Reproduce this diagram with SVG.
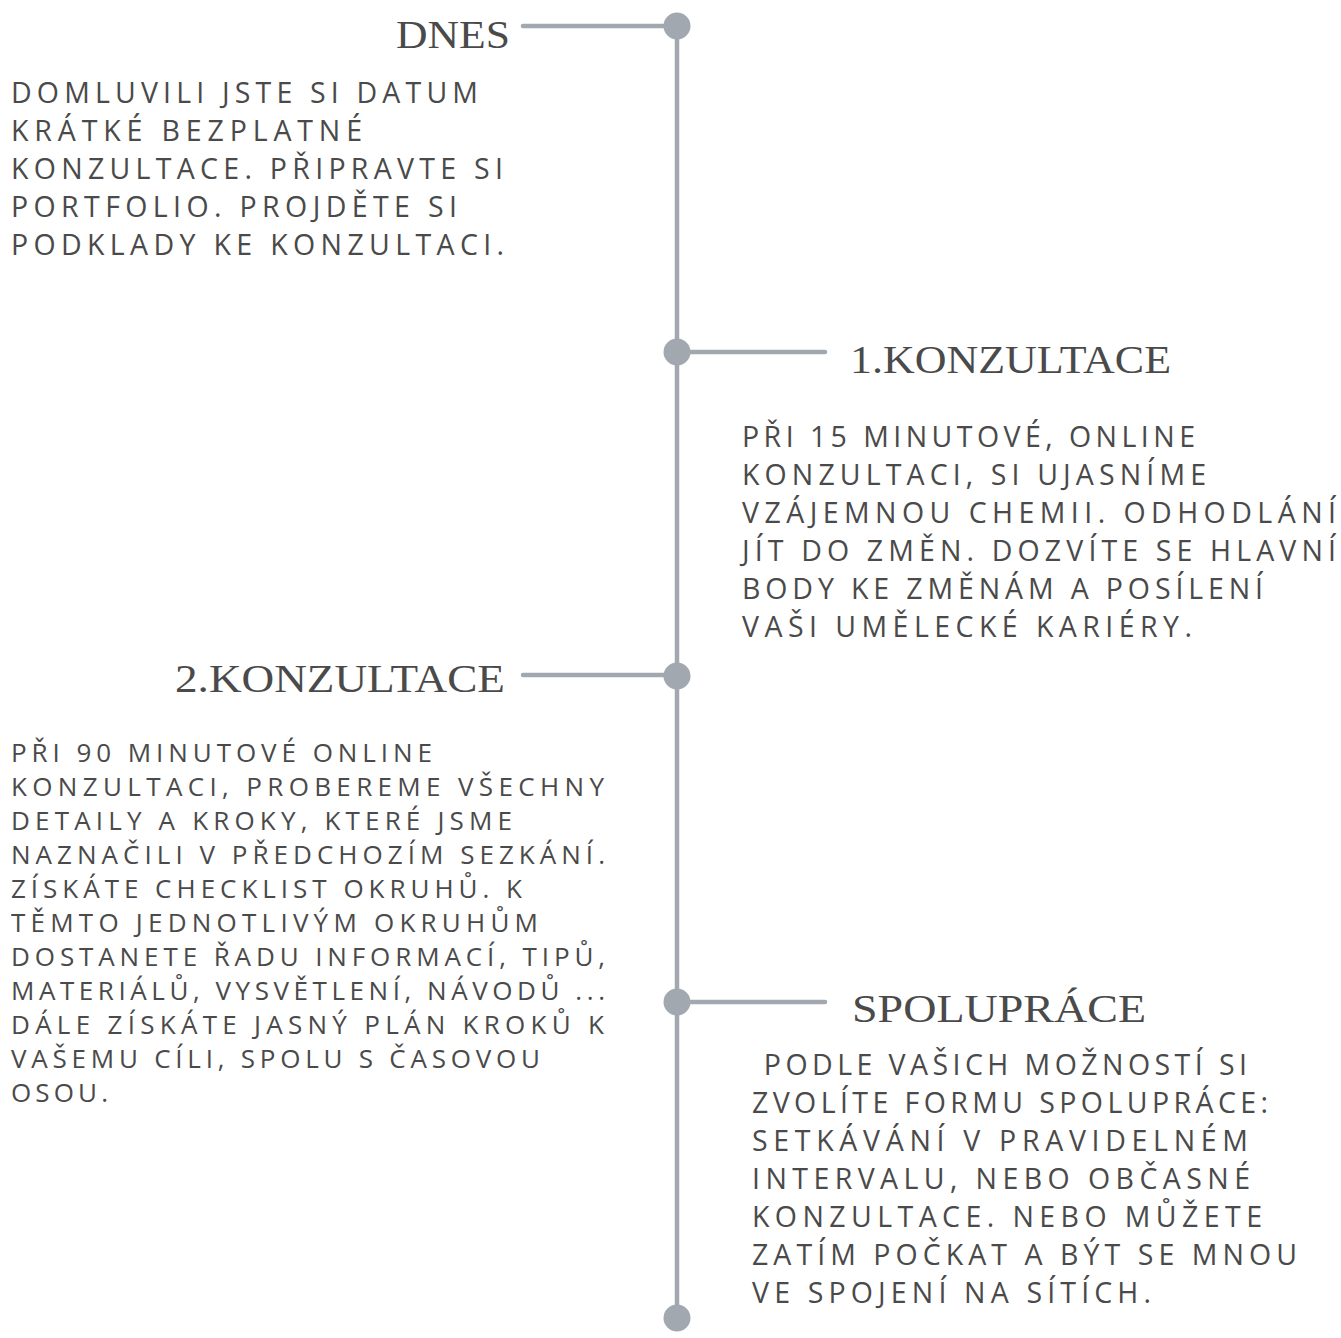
<svg xmlns="http://www.w3.org/2000/svg" width="1341" height="1338" viewBox="0 0 1341 1338">
<style>
.bg{fill:#ffffff}
.ln{stroke:#a2a8b0;stroke-width:4.5;stroke-linecap:round;fill:none}
.dot{fill:#a2a8b0}
.ttl{font-family:"Liberation Serif","DejaVu Serif",serif;font-size:41px;fill:#4a4a4a}
.body{font-family:"Open Sans",Lato,"DejaVu Sans",sans-serif;font-weight:400;font-size:28.5px;fill:#4a4a4a}
.small{font-size:26px}
</style>
<rect class="bg" x="0" y="0" width="1341" height="1338"/>
<g id="connectors">
<line class="ln" x1="677" y1="26" x2="677" y2="1318"/>
<line class="ln" x1="523" y1="26" x2="677" y2="26"/>
<line class="ln" x1="677" y1="352" x2="825" y2="352"/>
<line class="ln" x1="523" y1="675" x2="677" y2="675"/>
<line class="ln" x1="677" y1="1002" x2="825" y2="1002"/>
</g>
<g id="dots">
<circle class="dot" cx="677" cy="26" r="13.5"/>
<circle class="dot" cx="677" cy="352" r="13.5"/>
<circle class="dot" cx="677" cy="676" r="13.5"/>
<circle class="dot" cx="677" cy="1002" r="13.5"/>
<circle class="dot" cx="677" cy="1318" r="13.5"/>
</g>
<g id="node-dnes">
<text class="ttl" x="396" y="48" textLength="114" lengthAdjust="spacingAndGlyphs">DNES</text>
<text class="body" lengthAdjust="spacing">
<tspan x="11" y="103" textLength="467">DOMLUVILI JSTE SI DATUM</tspan>
<tspan x="11" y="141" textLength="351">KRÁTKÉ BEZPLATNÉ</tspan>
<tspan x="11" y="179" textLength="492">KONZULTACE. PŘIPRAVTE SI</tspan>
<tspan x="11" y="217" textLength="446">PORTFOLIO. PROJDĚTE SI</tspan>
<tspan x="11" y="255" textLength="493">PODKLADY KE KONZULTACI.</tspan>
</text>
</g>
<g id="node-konzultace1">
<text class="ttl" x="850" y="373" textLength="321" lengthAdjust="spacingAndGlyphs">1.KONZULTACE</text>
<text class="body">
<tspan x="742" y="447" textLength="453">PŘI 15 MINUTOVÉ, ONLINE</tspan>
<tspan x="742" y="485" textLength="464">KONZULTACI, SI UJASNÍME</tspan>
<tspan x="742" y="523" textLength="594">VZÁJEMNOU CHEMII. ODHODLÁNÍ</tspan>
<tspan x="742" y="561" textLength="594">JÍT DO ZMĚN. DOZVÍTE SE HLAVNÍ</tspan>
<tspan x="742" y="599" textLength="521">BODY KE ZMĚNÁM A POSÍLENÍ</tspan>
<tspan x="742" y="637" textLength="450">VAŠI UMĚLECKÉ KARIÉRY.</tspan>
</text>
</g>
<g id="node-konzultace2">
<text class="ttl" x="175" y="692" textLength="330" lengthAdjust="spacingAndGlyphs">2.KONZULTACE</text>
<text class="body small">
<tspan x="11" y="762" textLength="421">PŘI 90 MINUTOVÉ ONLINE</tspan>
<tspan x="11" y="796" textLength="593">KONZULTACI, PROBEREME VŠECHNY</tspan>
<tspan x="11" y="830" textLength="501">DETAILY A KROKY, KTERÉ JSME</tspan>
<tspan x="11" y="864" textLength="594">NAZNAČILI V PŘEDCHOZÍM SEZKÁNÍ.</tspan>
<tspan x="11" y="898" textLength="511">ZÍSKÁTE CHECKLIST OKRUHŮ. K</tspan>
<tspan x="11" y="932" textLength="527">TĚMTO JEDNOTLIVÝM OKRUHŮM</tspan>
<tspan x="11" y="966" textLength="594">DOSTANETE ŘADU INFORMACÍ, TIPŮ,</tspan>
<tspan x="11" y="1000" textLength="594">MATERIÁLŮ, VYSVĚTLENÍ, NÁVODŮ ...</tspan>
<tspan x="11" y="1034" textLength="593">DÁLE ZÍSKÁTE JASNÝ PLÁN KROKŮ K</tspan>
<tspan x="11" y="1068" textLength="529">VAŠEMU CÍLI, SPOLU S ČASOVOU</tspan>
<tspan x="11" y="1102" textLength="97">OSOU.</tspan>
</text>
</g>
<g id="node-spoluprace">
<text class="ttl" x="852" y="1022" textLength="294" lengthAdjust="spacingAndGlyphs">SPOLUPRÁCE</text>
<text class="body" xml:space="preserve"><tspan x="752" y="1075" textLength="495"> PODLE VAŠICH MOŽNOSTÍ SI</tspan><tspan x="752" y="1113" textLength="516">ZVOLÍTE FORMU SPOLUPRÁCE:</tspan><tspan x="752" y="1151" textLength="496">SETKÁVÁNÍ V PRAVIDELNÉM</tspan><tspan x="752" y="1189" textLength="498">INTERVALU, NEBO OBČASNÉ</tspan><tspan x="752" y="1227" textLength="510">KONZULTACE. NEBO MŮŽETE</tspan><tspan x="752" y="1265" textLength="545">ZATÍM POČKAT A BÝT SE MNOU</tspan><tspan x="752" y="1303" textLength="399">VE SPOJENÍ NA SÍTÍCH.</tspan></text>
</g>
</svg>
